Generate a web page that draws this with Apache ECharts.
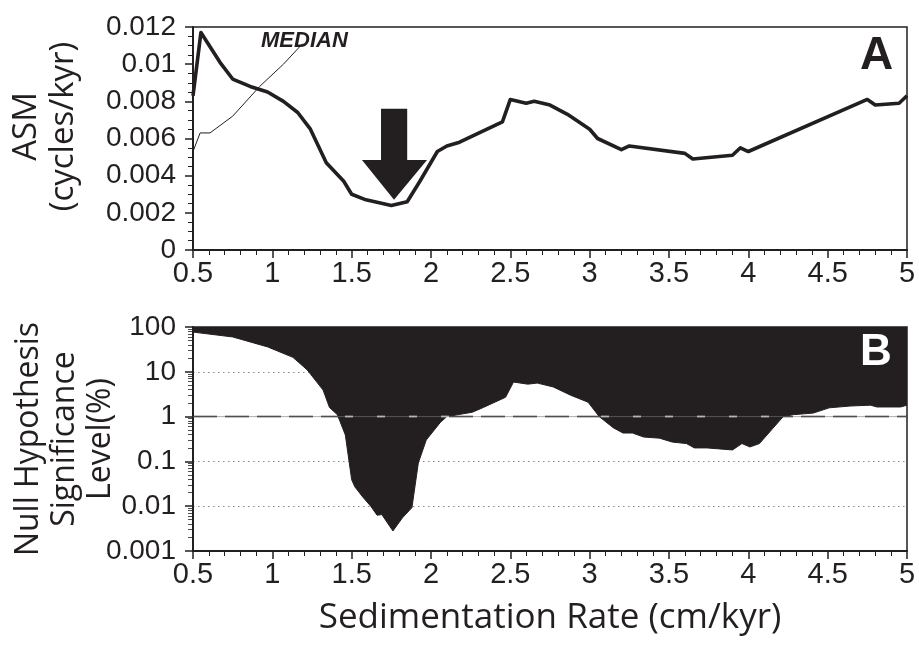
<!DOCTYPE html>
<html>
<head>
<meta charset="utf-8">
<script src="https://cdn.jsdelivr.net/npm/echarts@6/dist/echarts.min.js"></script>
<style>
html, body { margin: 0; padding: 0; background: #fff; }
#main { width: 919px; height: 646px; }
</style>
</head>
<body>
<div id="main"></div>
<script>
// panel A: average spectral misfit vs sedimentation rate
var asmRate = [0.5, 0.55, 0.67, 0.75, 0.86, 0.97, 1.07, 1.16, 1.24, 1.34, 1.45, 1.5, 1.59, 1.75, 1.85, 1.93, 2.04, 2.1, 2.18, 2.45, 2.5, 2.6, 2.65, 2.75, 2.86, 3.0, 3.05, 3.2, 3.25, 3.6, 3.65, 3.9, 3.95, 4.0, 4.75, 4.8, 4.95, 5.0];
var asmValue = [0.0083, 0.0117, 0.0101, 0.0092, 0.0088, 0.0085, 0.0080, 0.0074, 0.0065, 0.0047, 0.0037, 0.0030, 0.0027, 0.0024, 0.0026, 0.0037, 0.0053, 0.0056, 0.0058, 0.0069, 0.0081, 0.0079, 0.0080, 0.0078, 0.0073, 0.0065, 0.0060, 0.0054, 0.0056, 0.0052, 0.0049, 0.0051, 0.0055, 0.0053, 0.0081, 0.0078, 0.0079, 0.0083];
var medianRate = [0.5, 0.545, 0.607, 0.75, 0.92, 1.07, 1.19];
var medianValue = [0.0053, 0.0063, 0.0063, 0.0072, 0.0088, 0.0100, 0.0111];

// panel B: null hypothesis significance level (%)
var sigRate = [0.5, 0.75, 0.97, 1.13, 1.22, 1.32, 1.36, 1.41, 1.46, 1.50, 1.52, 1.57, 1.62, 1.66, 1.69, 1.76, 1.82, 1.88, 1.92, 1.97, 2.06, 2.10, 2.26, 2.33, 2.47, 2.52, 2.61, 2.67, 2.77, 2.88, 2.99, 3.06, 3.15, 3.21, 3.27, 3.34, 3.44, 3.52, 3.61, 3.66, 3.74, 3.90, 3.96, 4.01, 4.07, 4.22, 4.28, 4.41, 4.51, 4.64, 4.77, 4.81, 4.96, 5.0];
var sigLevel = [77, 60, 36, 21, 11, 3.9, 1.6, 1.1, 0.39, 0.039, 0.027, 0.016, 0.01, 0.0063, 0.0065, 0.0028, 0.0055, 0.0093, 0.092, 0.3, 0.75, 1.0, 1.25, 1.6, 2.7, 5.9, 5.3, 5.6, 4.6, 3.0, 2.1, 1.0, 0.56, 0.43, 0.43, 0.35, 0.33, 0.27, 0.25, 0.2, 0.2, 0.18, 0.25, 0.21, 0.25, 1.0, 1.1, 1.2, 1.57, 1.72, 1.8, 1.64, 1.64, 1.8];
var threshold = 1;

var xTicks = [0.5, 5, 0.5];          // min, max, step
var asmTicks = [0, 0.012, 0.002];
var sigTicks = [0.001, 100];

// arrow annotation (data units): tip, head base, shaft top
var arrowTip = [1.767, 0.0027];
var arrowHead = { y: 0.00484, x0: 1.565, x1: 1.975 };
var arrowShaft = { y: 0.0076, x0: 1.685, x1: 1.85 };

var ink = '#231f20';
var zip = function (xs, ys) { return xs.map(function (x, i) { return [x, ys[i]]; }); };

var chart = echarts.init(document.getElementById('main'));

var tick = { show: true, inside: false, length: 8, lineStyle: { color: ink, width: 1.5 } };

function xAxisCfg(idx, withName) {
    var a = {
        type: 'value', gridIndex: idx,
        min: xTicks[0], max: xTicks[1], interval: xTicks[2],
        axisLine: { show: true, onZero: false, lineStyle: { color: ink, width: 2 } },
        axisTick: tick,
        minorTick: { show: true, splitNumber: 5, length: 5, lineStyle: { color: ink, width: 1 } },
        axisLabel: { color: ink, fontSize: 29, fontFamily: 'Liberation Sans Narrow, Liberation Sans', margin: 9 },
        splitLine: { show: false }
    };
    if (withName) {
        a.name = 'Sedimentation Rate (cm/kyr)';
        a.nameLocation = 'middle';
        a.nameGap = 50;
        a.nameMoveOverlap = false;
        a.nameTextStyle = { color: ink, fontSize: 35, fontFamily: 'Open Sans' };
    }
    return a;
}

chart.setOption({
    animation: false,
    grid: [
        { left: 193, top: 27, width: 714, height: 223, show: true, borderColor: ink, borderWidth: 1.5, outerBoundsMode: 'none', containLabel: false },
        { left: 193, top: 327, width: 714, height: 224, show: true, borderColor: ink, borderWidth: 1.5, outerBoundsMode: 'none', containLabel: false }
    ],
    xAxis: [xAxisCfg(0, false), xAxisCfg(1, true)],
    yAxis: [
        {
            type: 'value', gridIndex: 0,
            min: asmTicks[0], max: asmTicks[1], interval: asmTicks[2],
            name: 'ASM\n(cycles/kyr)', nameLocation: 'middle', nameRotate: 90, nameGap: 111, nameMoveOverlap: false,
            nameTextStyle: { color: ink, fontSize: 33, lineHeight: 37, fontFamily: 'Open Sans', padding: [0, 0, 0, 24] },
            axisLine: { show: true, lineStyle: { color: ink, width: 2 } },
            axisTick: tick,
            minorTick: { show: true, splitNumber: 4, length: 5, lineStyle: { color: ink, width: 1 } },
            axisLabel: { color: ink, fontSize: 28, fontFamily: 'Liberation Sans', margin: 17 },
            splitLine: { show: false }
        },
        {
            type: 'log', logBase: 10, gridIndex: 1,
            min: sigTicks[0], max: sigTicks[1],
            name: 'Null Hypothesis\nSignificance\nLevel(%)', nameLocation: 'middle', nameRotate: 90, nameGap: 74, nameMoveOverlap: false,
            nameTextStyle: { color: ink, fontSize: 32, lineHeight: 36, fontFamily: 'Open Sans' },
            axisLine: { show: true, lineStyle: { color: ink, width: 2 } },
            axisTick: tick,
            minorTick: { show: true, splitNumber: 9, length: 5, lineStyle: { color: ink, width: 0.8 } },
            axisLabel: {
                color: ink, fontSize: 28, fontFamily: 'Liberation Sans', margin: 17,
                formatter: function (v) { return String(+Number(v).toPrecision(1)); }
            },
            splitLine: { show: true, lineStyle: { color: '#8a8a8a', type: [1.5, 3.5], width: 1.2 } }
        }
    ],
    series: [
        {
            type: 'line', xAxisIndex: 0, yAxisIndex: 0, data: zip(medianRate, medianValue),
            showSymbol: false, lineStyle: { color: ink, width: 1 }, z: 2
        },
        {
            type: 'line', xAxisIndex: 0, yAxisIndex: 0, data: zip(asmRate, asmValue),
            showSymbol: false, lineStyle: { color: ink, width: 3.6, join: 'round' }, z: 3
        },
        {
            // threshold dashes visible on the white part
            type: 'line', xAxisIndex: 1, yAxisIndex: 1,
            data: [[xTicks[0], threshold], [xTicks[1], threshold]],
            showSymbol: false, lineStyle: { color: ink, width: 1.5, type: [24, 8] }, z: 1
        },
        {
            type: 'line', xAxisIndex: 1, yAxisIndex: 1, data: zip(sigRate, sigLevel),
            showSymbol: false, lineStyle: { color: ink, width: 1 },
            areaStyle: { origin: 'end', color: ink, opacity: 1 }, z: 2
        },
        {
            // threshold dashes visible on the black part
            type: 'line', xAxisIndex: 1, yAxisIndex: 1,
            data: [[xTicks[0], threshold], [xTicks[1], threshold]],
            showSymbol: false, lineStyle: { color: '#fff', width: 1.5, type: [8, 24], dashOffset: -24 }, z: 3
        },
        {
            type: 'line', xAxisIndex: 1, yAxisIndex: 1,
            data: [[xTicks[0], threshold], [xTicks[1], threshold]],
            showSymbol: false, lineStyle: { color: '#777', width: 0.6 }, z: 4
        }
    ]
});

// annotations placed through the axes
var px = function (p) { return chart.convertToPixel({ gridIndex: 0 }, p); };
var arrowPts = [
    px([arrowShaft.x0, arrowShaft.y]), px([arrowShaft.x1, arrowShaft.y]),
    px([arrowShaft.x1, arrowHead.y]), px([arrowHead.x1, arrowHead.y]),
    px(arrowTip),
    px([arrowHead.x0, arrowHead.y]), px([arrowShaft.x0, arrowHead.y])
];

chart.setOption({
    graphic: [
        { type: 'polygon', id: 'arrow', shape: { points: arrowPts }, style: { fill: ink }, z: 10 },
        { type: 'text', id: 'median', left: 261, top: 30, z: 10,
          style: { text: 'MEDIAN', fill: ink, font: 'italic bold 22px "Liberation Sans"' } },
        { type: 'text', id: 'labA', left: 860, top: 33, z: 10,
          style: { text: 'A', fill: ink, font: 'bold 46px "Liberation Sans"' } },
        { type: 'text', id: 'labB', left: 860, top: 331, z: 10,
          style: { text: 'B', fill: '#fff', font: 'bold 44px "Liberation Sans"' } }
    ]
});
</script>
</body>
</html>
